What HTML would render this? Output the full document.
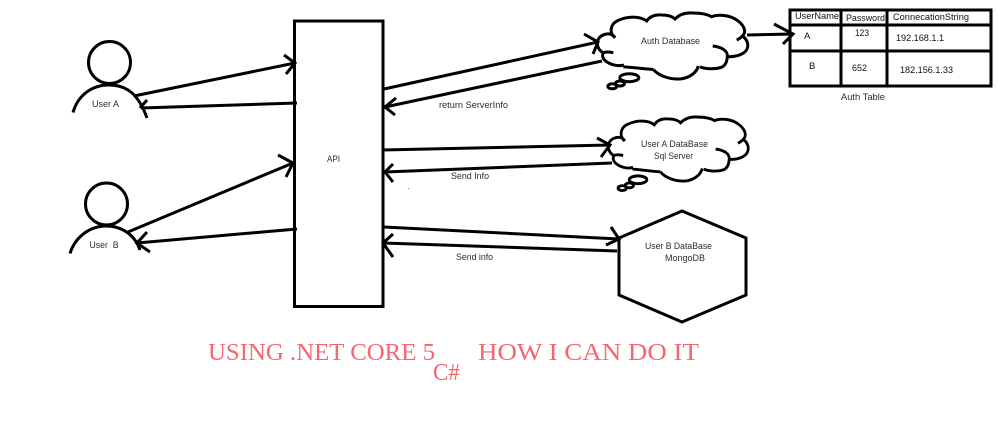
<!DOCTYPE html>
<html>
<head>
<meta charset="utf-8">
<style>
html,body{margin:0;padding:0;background:#fff;width:999px;height:427px;overflow:hidden}
svg{display:block}
.l{fill:none;stroke:#000;stroke-width:3;stroke-linecap:butt;stroke-linejoin:miter}
.t{font-family:"Liberation Sans",sans-serif;font-size:9.5px;fill:#2c2c2c}
.r{font-family:"Liberation Serif",serif;font-size:24px;fill:#f6666f}
</style>
</head>
<body>
<svg width="999" height="427" viewBox="0 0 999 427" xmlns="http://www.w3.org/2000/svg">
<rect width="999" height="427" fill="#fff"/>
<defs>
<g id="cloud">
<path class="l" d="M615 37.7 C609 33 610 24 618 20.5 C628 16 640 16 646.7 21 C650 16 656 14.5 662 15 C668 15 672 16 675 19 C680 14 686 12.5 693 13 C701 13 707 14 711.7 16.7 C718 14 730 15 736.7 20 C743 24 746 30 744 34 C742 37 739 39 736.7 40 M742.5 36 C748 40 749 46 746.5 50 C744 54 737 57 727.3 56.7 C728 51 722 47 712.7 46 M727.3 56.7 C727 62 725 66 721 67.5 C714 69.5 705 69 700 66.7 M698.3 66 C697 72 690 78 680 79 C668 79.5 658 75 653.3 69.5 M653.3 69.5 C645 69 634 67.5 623.3 66.7 M624 65 C617 67 609 64 605 60.5 C602.5 58 602 55 603.3 52.7 C606 51.5 610 52 613.3 52.7 M603.3 52.7 C598 50 596.5 45 598 40 C600 35 606 33.5 610 34 C612 34.5 614 36 615 37.7"/>
<ellipse class="l" cx="629.3" cy="77.7" rx="9.5" ry="4" stroke-width="2.5"/>
<ellipse class="l" cx="620" cy="83.5" rx="4.5" ry="2.5" stroke-width="2.5"/>
<ellipse class="l" cx="612.3" cy="86.3" rx="4.5" ry="2.5" stroke-width="2.5"/>
</g>
</defs>

<!-- API box -->
<rect class="l" x="294.5" y="21" width="88.5" height="285.5"/>

<!-- users -->
<circle class="l" cx="109.5" cy="62.5" r="21"/>
<path class="l" d="M73 112.5 C78 95 92 85 109 85 C126 85 138 93 147 118"/>
<circle class="l" cx="106.5" cy="204" r="21"/>
<path class="l" d="M70 253.5 C75 237 90 226 106 226 C122 226 135 235 140 250"/>

<!-- left connectors -->
<path class="l" d="M134 96 L295 63 M284 55 L295 63 L286 74"/>
<path class="l" d="M297 103 L141 108 M147 100 L140 108"/>
<path class="l" d="M128 232 L293 163 M278 155 L293 163 L286 177"/>
<path class="l" d="M297 229 L137 243 M147 232 L137 243 L150 252"/>

<!-- right connectors -->
<path class="l" d="M384 89 L598 42 M584 34 L598 42 L593 54"/>
<path class="l" d="M602 61 L385 107 M396 98 L385 107 L395 115"/>
<path class="l" d="M382 150 L610 145 M597 138 L610 145 L601 157"/>
<path class="l" d="M612 163 L385 172 M393 164 L385 172 L393 182"/>
<path class="l" d="M384 227 L619 239 M611 227 L619 239 L606 245"/>
<path class="l" d="M617 251 L383 243 M393 234 L383 243 L393 257"/>
<path class="l" d="M747 35 L793 34 M774 24 L793 34 L783 44"/>

<!-- clouds -->
<use href="#cloud"/>
<use href="#cloud" transform="matrix(.93 0 0 .97 52.8 104.4)"/>

<!-- hexagon -->
<polygon class="l" points="682,211 746,238 746,295 682,322 619,295 619,238" fill="#fff"/>

<!-- table -->
<rect class="l" x="790" y="10" width="201" height="76"/>
<path class="l" d="M841 9 V86 M887 9 V86 M790 25 H991 M790 51 H991"/>

<!-- labels -->
<text class="t" x="92" y="107" textLength="27" lengthAdjust="spacingAndGlyphs">User A</text>
<text class="t" x="89.500" y="248" textLength="29" lengthAdjust="spacingAndGlyphs" xml:space="preserve">User  B</text>
<text class="t" x="327" y="162" textLength="13" lengthAdjust="spacingAndGlyphs">API</text>
<text class="t" x="641" y="44" textLength="59" lengthAdjust="spacingAndGlyphs">Auth Database</text>
<text class="t" x="439" y="108" textLength="69" lengthAdjust="spacingAndGlyphs">return ServerInfo</text>
<text class="t" x="641" y="147" textLength="67" lengthAdjust="spacingAndGlyphs">User A DataBase</text>
<text class="t" x="654" y="159" textLength="39" lengthAdjust="spacingAndGlyphs">Sql Server</text>
<text class="t" x="451" y="179" textLength="38" lengthAdjust="spacingAndGlyphs">Send Info</text>
<text class="t" x="456" y="260" textLength="37" lengthAdjust="spacingAndGlyphs">Send info</text>
<text class="t" x="645" y="249" textLength="67" lengthAdjust="spacingAndGlyphs">User B DataBase</text>
<text class="t" x="665" y="261" textLength="40" lengthAdjust="spacingAndGlyphs">MongoDB</text>
<rect x="408" y="188" width="1" height="1" fill="#888"/>

<!-- table text -->
<text class="t" x="795" y="19" textLength="44" lengthAdjust="spacingAndGlyphs" style="fill:#111">UserName</text>
<text class="t" x="846" y="21" textLength="39" lengthAdjust="spacingAndGlyphs" style="fill:#111">Password</text>
<text class="t" x="893" y="20" textLength="76" lengthAdjust="spacingAndGlyphs" style="fill:#111">ConnecationString</text>
<text class="t" x="804" y="39" style="fill:#111">A</text>
<text class="t" x="855" y="36" textLength="14" lengthAdjust="spacingAndGlyphs" style="fill:#111">123</text>
<text class="t" x="896" y="41" textLength="48" lengthAdjust="spacingAndGlyphs" style="fill:#111">192.168.1.1</text>
<text class="t" x="809" y="69" style="fill:#111">B</text>
<text class="t" x="852" y="71" textLength="15" lengthAdjust="spacingAndGlyphs" style="fill:#111">652</text>
<text class="t" x="900" y="73" textLength="53" lengthAdjust="spacingAndGlyphs" style="fill:#111">182.156.1.33</text>
<text class="t" x="841" y="100" textLength="44" lengthAdjust="spacingAndGlyphs">Auth Table</text>

<!-- red title -->
<text class="r" x="208" y="360" textLength="227" lengthAdjust="spacingAndGlyphs">USING .NET CORE 5</text>
<text class="r" x="478" y="360" textLength="221" lengthAdjust="spacingAndGlyphs">HOW I CAN DO IT</text>
<text class="r" x="433" y="380" textLength="27" lengthAdjust="spacingAndGlyphs">C#</text>
</svg>
</body>
</html>
